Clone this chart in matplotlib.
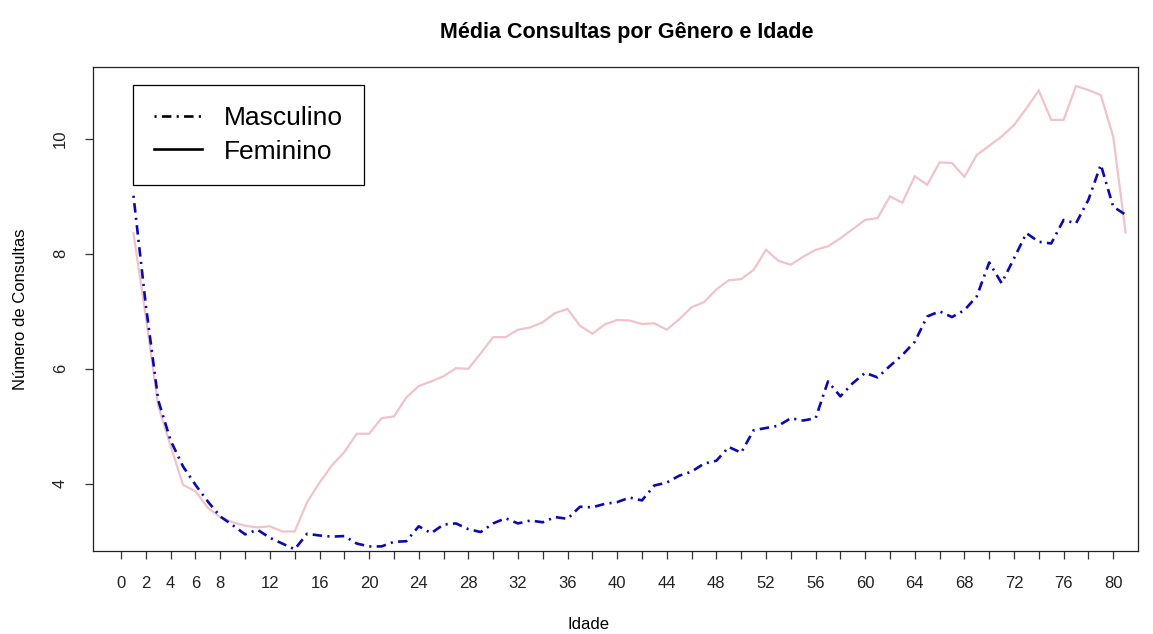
import matplotlib.pyplot as plt
import numpy as np

plt.rcParams['font.family'] = ['Liberation Sans', 'DejaVu Sans']

# mean number of consultations by age (1..81) for each gender
idade = np.arange(1, 82)

masculino = [9.01, 7.10, 5.45, 4.75, 4.30, 3.98, 3.69, 3.43, 3.28, 3.12,
             3.20, 3.06, 2.96, 2.86, 3.13, 3.10, 3.08, 3.09, 2.96, 2.91,
             2.91, 2.99, 3.00, 3.26, 3.14, 3.29, 3.31, 3.21, 3.16, 3.31,
             3.40, 3.31, 3.36, 3.33, 3.42, 3.39, 3.60, 3.59, 3.65, 3.68,
             3.76, 3.71, 3.97, 4.02, 4.14, 4.21, 4.35, 4.40, 4.64, 4.54,
             4.93, 4.97, 5.01, 5.14, 5.10, 5.14, 5.78, 5.52, 5.75, 5.93,
             5.85, 6.05, 6.24, 6.47, 6.91, 7.00, 6.90, 7.02, 7.26, 7.85,
             7.49, 7.92, 8.36, 8.21, 8.18, 8.59, 8.53, 8.94, 9.55, 8.82,
             8.68]

feminino = [8.36, 6.90, 5.35, 4.65, 3.98, 3.87, 3.58, 3.42, 3.33, 3.27,
            3.24, 3.26, 3.17, 3.17, 3.68, 4.02, 4.32, 4.55, 4.87, 4.87,
            5.14, 5.17, 5.50, 5.70, 5.78, 5.87, 6.01, 6.00, 6.27, 6.55,
            6.55, 6.68, 6.72, 6.81, 6.97, 7.04, 6.75, 6.61, 6.77, 6.85,
            6.84, 6.78, 6.79, 6.68, 6.86, 7.07, 7.16, 7.38, 7.54, 7.56,
            7.72, 8.07, 7.88, 7.81, 7.95, 8.07, 8.13, 8.27, 8.43, 8.59,
            8.62, 9.00, 8.89, 9.35, 9.20, 9.59, 9.58, 9.34, 9.72, 9.88,
            10.04, 10.24, 10.53, 10.84, 10.33, 10.33, 10.92, 10.85, 10.76, 10.04,
            8.37]

x_ticks = list(range(0, 81, 2))
x_labels_shown = [0, 2, 4, 6, 8] + list(range(12, 81, 4))
y_ticks = [4, 6, 8, 10]

fig = plt.figure(figsize=(11.53, 6.34), dpi=100)
ax = fig.add_axes([0.0807, 0.1309, 0.9063, 0.7634])

ax.plot(idade, feminino, color='#F0C2CB', lw=1.6, solid_joinstyle='miter')
ax.plot(idade, masculino, color='#0A0AB0', lw=1.9, linestyle=(0, (0.8, 2.0, 3.6, 2.0)))

ax.set_xlim(-2.26, 82.0)
ax.set_ylim(2.83, 11.25)

ax.set_xticks(x_ticks)
ax.set_xticklabels([str(v) if v in x_labels_shown else '' for v in x_ticks])
ax.set_yticks(y_ticks)
ax.set_yticklabels([str(v) for v in y_ticks], rotation=90, va='center')

ax.tick_params(axis='both', direction='out', length=6, width=0.9, colors='#333333',
               labelsize=12, labelcolor='#222222')
ax.tick_params(axis='x', pad=12)
ax.tick_params(axis='y', pad=12)
for s in ax.spines.values():
    s.set_linewidth(0.9)
    s.set_color('#222222')

ax.set_xlabel('Idade', fontsize=12)
ax.xaxis.set_label_coords(0.474, -0.137)
ax.set_ylabel('Número de Consultas', fontsize=12)
ax.yaxis.set_label_coords(-0.062, 0.5)

ax.set_title('Média Consultas por Gênero e Idade', fontsize=15.5, fontweight='bold',
             pad=21, x=0.511)

# legend keys are drawn in black
h1, = ax.plot([], [], color='black', lw=1.9, linestyle=(0, (0.8, 2.0, 3.6, 2.0)))
h2, = ax.plot([], [], color='black', lw=1.9)
leg = ax.legend([h1, h2], ['Masculino', 'Feminino'], loc='upper left',
                bbox_to_anchor=(0.0383, 0.963), borderaxespad=0, fontsize=19,
                fancybox=False, framealpha=1, edgecolor='black',
                handlelength=1.8, handletextpad=0.85, labelspacing=0.36, borderpad=0.8)
leg.get_frame().set_linewidth(0.9)

plt.savefig('out.png', dpi=100)
